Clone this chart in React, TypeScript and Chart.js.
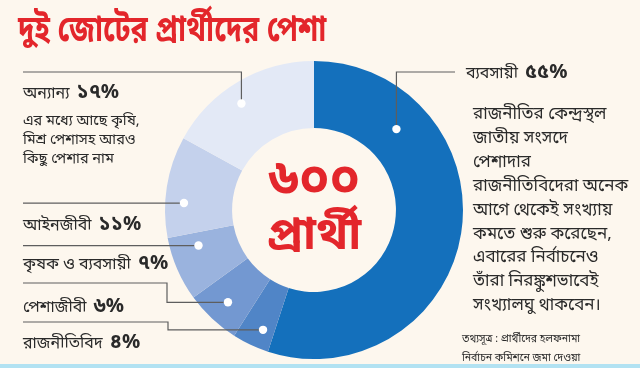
import React, { useEffect, useRef } from "react";
import { Chart, registerables } from "chart.js";
Chart.register(...registerables);

// ---------- data ----------
const title = "দুই জোটের প্রার্থীদের পেশা";
const categories = ["ব্যবসায়ী", "রাজনীতিবিদ", "পেশাজীবী", "কৃষক ও ব্যবসায়ী", "আইনজীবী", "অন্যান্য"];
const shares = [55, 4, 6, 7, 11, 17];
const totalCount = 600;
const totalUnit = "প্রার্থী";
const othersNote = ["এর মধ্যে আছে কৃষি,", "মিশ্র পেশাসহ আরও", "কিছু পেশার নাম"];
const businessNote = [
  "রাজনীতির কেন্দ্রস্থল",
  "জাতীয় সংসদে",
  "পেশাদার",
  "রাজনীতিবিদেরা অনেক",
  "আগে থেকেই সংখ্যায়",
  "কমতে শুরু করেছেন,",
  "এবারের নির্বাচনেও",
  "তাঁরা নিরঙ্কুশভাবেই",
  "সংখ্যালঘু থাকবেন।",
];
const sourceLines = ["তথ্যসূত্র : প্রার্থীদের হলফনামা", "নির্বাচন কমিশনে জমা দেওয়া"];

// ---------- style ----------
const colors = ["#1470bc", "#5085c7", "#7398d1", "#9ab3de", "#c4d1ec", "#e3e9f6"];
const RED = "#e3262b";
const BG = "#fdf7ee";
const INK = "#2a2a2a";
const FONT = "'Noto Sans Bengali','Noto Serif Bengali','Lohit Bengali','FreeSerif','Noto Sans',sans-serif";

// leader layout per slice (data order): dot position along arc / radius, and elbow path
type P = [number | "d", number | "d"];
const leaders: { frac: number; rf: number; path: P[] }[] = [
  { frac: 0.23, rf: 0.5, path: [[455, 72], ["d", 72]] },
  { frac: 0.35, rf: 0.72, path: [[23, 322], [168, 322], [168, "d"]] },
  { frac: 0.49, rf: 0.66, path: [[23, 283], [167, 283], [167, "d"]] },
  { frac: 0.75, rf: 0.58, path: [[23, "d"]] },
  { frac: 0.35, rf: 0.72, path: [[23, "d"]] },
  { frac: 0.44, rf: 0.7, path: [[23, 72], ["d", 72]] },
];
// label rows (data order): left, vertical centre
const labelPos = [
  { x: 466, y: 73 },
  { x: 23, y: 343 },
  { x: 23, y: 307 },
  { x: 23, y: 264 },
  { x: 23, y: 225 },
  { x: 23, y: 93 },
];

const bnDigits = "০১২৩৪৫৬৭৮৯";
const toBn = (n: number) => String(n).replace(/\d/g, (d) => bnDigits[+d]);

const leaderPlugin = {
  id: "leaders",
  afterDatasetsDraw(chart: any) {
    const ctx = chart.ctx;
    const meta = chart.getDatasetMeta(0);
    meta.data.forEach((arc: any, i: number) => {
      const p = arc.getProps(["x", "y", "startAngle", "endAngle", "innerRadius", "outerRadius"], true);
      const L = leaders[i];
      const a = p.startAngle + (p.endAngle - p.startAngle) * L.frac;
      const r = p.innerRadius + (p.outerRadius - p.innerRadius) * L.rf;
      const dx = p.x + Math.cos(a) * r;
      const dy = p.y + Math.sin(a) * r;
      ctx.save();
      ctx.strokeStyle = "#5e5e5e";
      ctx.lineWidth = 1.2;
      ctx.beginPath();
      L.path.forEach((pt, k) => {
        const x = pt[0] === "d" ? dx : pt[0];
        const y = pt[1] === "d" ? dy : pt[1];
        if (k === 0) ctx.moveTo(x, y);
        else ctx.lineTo(x, y);
      });
      ctx.lineTo(dx, dy);
      ctx.stroke();
      ctx.fillStyle = "#ffffff";
      ctx.beginPath();
      ctx.arc(dx, dy, 4.2, 0, Math.PI * 2);
      ctx.fill();
      ctx.restore();
    });
  },
};

function Label({ i }: { i: number }) {
  const pos = labelPos[i];
  return (
    <div
      style={{
        position: "absolute",
        left: pos.x,
        top: pos.y,
        transform: "translateY(-50%)",
        whiteSpace: "nowrap",
        color: INK,
        display: "flex",
        alignItems: "baseline",
        gap: 7,
      }}
    >
      <span style={{ fontSize: 16 }}>{categories[i]}</span>
      <span style={{ fontSize: 20, fontWeight: 700 }}>{toBn(shares[i])}%</span>
    </div>
  );
}

export default function App() {
  const ref = useRef<HTMLCanvasElement>(null);
  useEffect(() => {
    document.body.style.margin = "0";
    const chart = new Chart(ref.current!, {
      type: "doughnut",
      data: {
        labels: categories,
        datasets: [
          {
            data: shares,
            backgroundColor: colors,
            borderWidth: 0,
          },
        ],
      },
      options: {
        animation: false,
        responsive: false,
        cutout: "55%",
        rotation: 0,
        layout: { padding: { left: 165, right: 177, top: 61, bottom: 9 } },
        plugins: { legend: { display: false }, tooltip: { enabled: false } },
      },
      plugins: [leaderPlugin],
    });
    return () => chart.destroy();
  }, []);

  return (
    <div
      style={{
        position: "fixed",
        left: 0,
        top: 0,
        width: 640,
        height: 368,
        background: BG,
        overflow: "hidden",
        fontFamily: FONT,
      }}
    >
      <canvas ref={ref} width={640} height={368} style={{ position: "absolute", left: 0, top: 0 }} />
      <div
        style={{
          position: "absolute",
          left: 18,
          top: 12,
          transform: "scaleX(0.775)",
          transformOrigin: "0 0",
          fontSize: 37,
          lineHeight: "40px",
          fontWeight: 700,
          color: RED,
          whiteSpace: "nowrap",
        }}
      >
        {title}
      </div>
      <div
        style={{
          position: "absolute",
          left: 232,
          width: 164,
          top: 210,
          transform: "translateY(-50%)",
          textAlign: "center",
          color: RED,
          fontWeight: 700,
          lineHeight: "56px",
        }}
      >
        <div style={{ fontSize: 50 }}>{toBn(totalCount)}</div>
        <div style={{ fontSize: 46 }}>{totalUnit}</div>
      </div>
      {categories.map((_, i) => (
        <Label key={i} i={i} />
      ))}
      <div style={{ position: "absolute", left: 23, top: 112, fontSize: 14.5, lineHeight: "19px", color: INK }}>
        {othersNote.map((t, k) => (
          <div key={k}>{t}</div>
        ))}
      </div>
      <div style={{ position: "absolute", left: 473, top: 103, fontSize: 17, lineHeight: "23.9px", color: INK }}>
        {businessNote.map((t, k) => (
          <div key={k} style={{ whiteSpace: "nowrap" }}>{t}</div>
        ))}
      </div>
      <div
        style={{
          position: "absolute",
          left: 462,
          width: 112,
          top: 330,
          fontSize: 10.5,
          lineHeight: "19px",
          color: INK,
          textAlign: "center",
          whiteSpace: "nowrap",
        }}
      >
        {sourceLines.map((t, k) => (
          <div key={k}>{t}</div>
        ))}
      </div>
      <div style={{ position: "absolute", left: 0, top: 364, width: 640, height: 4, background: "#b2e2f2" }} />
    </div>
  );
}
